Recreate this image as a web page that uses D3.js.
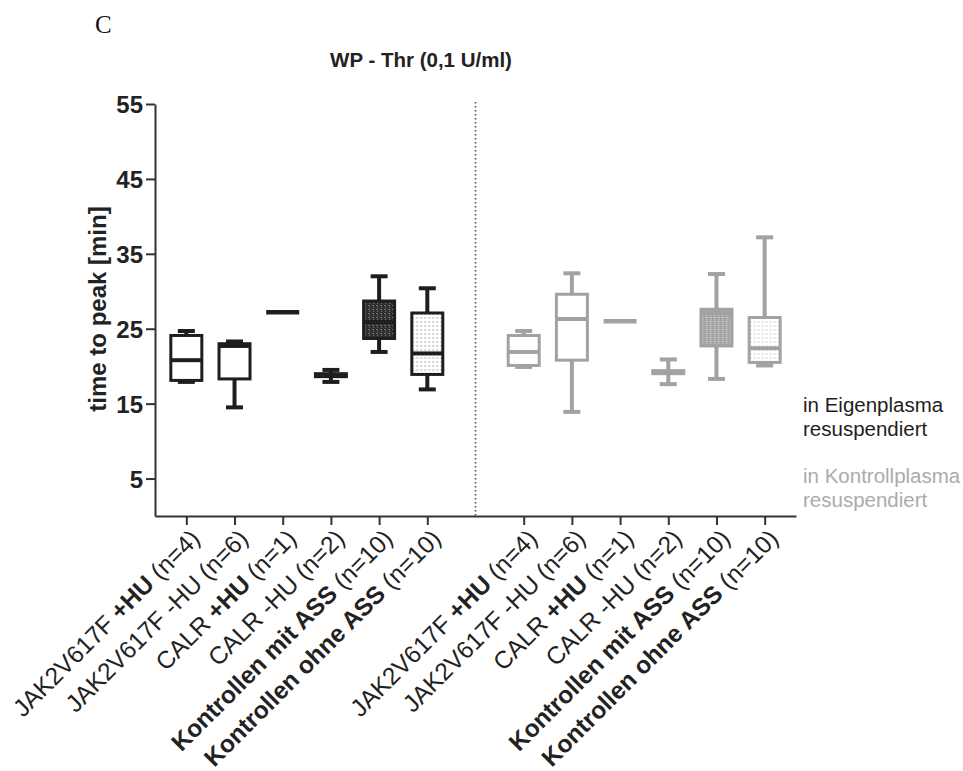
<!DOCTYPE html>
<html>
<head>
<meta charset="utf-8">
<script src="https://cdn.jsdelivr.net/npm/d3@7"></script>
<style>
  body { margin: 0; background: #fff; }
  text { font-family: "Liberation Sans", Arial, sans-serif; }
</style>
</head>
<body>
<div id="chart"></div>
<script>
// box plot data (time to peak, min)
var categories = ["JAK2V617F +HU (n=4)", "JAK2V617F -HU (n=6)", "CALR +HU (n=1)", "CALR -HU (n=2)",
    "Kontrollen mit ASS (n=10)", "Kontrollen ohne ASS (n=10)",
    "JAK2V617F +HU (n=4) ", "JAK2V617F -HU (n=6) ", "CALR +HU (n=1) ", "CALR -HU (n=2) ",
    "Kontrollen mit ASS (n=10) ", "Kontrollen ohne ASS (n=10) "];
// label pieces: [text, bold]
var labelParts = [
    [["JAK2V617F ", 0], ["+HU", 1], [" (n=4)", 0]],
    [["JAK2V617F -HU (n=6)", 0]],
    [["CALR ", 0], ["+HU", 1], [" (n=1)", 0]],
    [["CALR -HU (n=2)", 0]],
    [["Kontrollen mit ASS", 1], [" (n=10)", 0]],
    [["Kontrollen ohne ASS", 1], [" (n=10)", 0]]
];
var groups = ["Eigenplasma", "Eigenplasma", "Eigenplasma", "Eigenplasma", "Eigenplasma", "Eigenplasma",
    "Kontrollplasma", "Kontrollplasma", "Kontrollplasma", "Kontrollplasma", "Kontrollplasma", "Kontrollplasma"];
var nValues = [4, 6, 1, 2, 10, 10, 4, 6, 1, 2, 10, 10];
var whiskerLow = [17.9, 14.5, 27.2, 17.9, 21.9, 16.9, 19.9, 13.9, 26.0, 17.6, 18.3, 20.1];
var q1 = [18.1, 18.3, 27.2, 18.6, 23.7, 18.9, 20.1, 20.8, 26.0, 19.0, 22.7, 20.5];
var median = [20.8, 22.7, 27.2, 18.8, 25.9, 21.7, 21.9, 26.3, 26.0, 19.2, 27.1, 22.4];
var q3 = [24.1, 23.0, 27.2, 19.0, 28.7, 27.1, 24.1, 29.6, 26.0, 19.4, 27.6, 26.5];
var whiskerHigh = [24.7, 23.3, 27.2, 19.5, 32.0, 30.4, 24.7, 32.4, 26.0, 20.9, 32.3, 37.2];
var yTicks = [5, 15, 25, 35, 45, 55];
var legendLines = [["in Eigenplasma", "resuspendiert"], ["in Kontrollplasma", "resuspendiert"]];

// set the dimensions and margins of the graph
var margin = { top: 104, right: 167, bottom: 255, left: 155 },
    width = 963 - margin.left - margin.right,
    height = 771 - margin.top - margin.bottom;

var svgRoot = d3.select("#chart")
    .append("svg")
    .attr("width", 963)
    .attr("height", 771);

// fill patterns
var defs = svgRoot.append("defs");
function makePattern(id, bg, mark, size, dash) {
    var p = defs.append("pattern")
        .attr("id", id)
        .attr("patternUnits", "userSpaceOnUse")
        .attr("width", size).attr("height", size);
    p.append("rect").attr("width", size).attr("height", size).attr("fill", bg);
    if (dash) {
        p.append("rect").attr("x", 1).attr("y", 1).attr("width", 2).attr("height", 1).attr("fill", mark);
        p.append("rect").attr("x", 2).attr("y", 3).attr("width", 1).attr("height", 1).attr("fill", mark);
    } else {
        p.append("circle").attr("cx", size / 2).attr("cy", size / 2).attr("r", 0.7).attr("fill", mark);
    }
}
makePattern("darkL", "#2e2e2e", "#777", 4, true);
makePattern("darkR", "#a4a4a4", "#d2d2d2", 4, true);
makePattern("dotsL", "#fff", "#8a8a8a", 4, false);
makePattern("dotsR", "#fff", "#b5b5b5", 4, false);

var svg = svgRoot.append("g")
    .attr("transform", "translate(" + margin.left + "," + margin.top + ")");

// x: 13 slots, slot "gap" separates the two groups
var slots = categories.slice(0, 6).concat(["gap"]).concat(categories.slice(6));
var x = d3.scalePoint()
    .domain(slots)
    .range([0, width])
    .padding(0.65);

var y = d3.scaleLinear()
    .domain([0, 55])
    .range([height, 0]);

var color = d3.scaleOrdinal()
    .domain(["Eigenplasma", "Kontrollplasma"])
    .range(["#1e1e1e", "#a2a2a2"]);

function fillFor(i) {
    var c = categories[i];
    var side = groups[i] == "Eigenplasma" ? "L" : "R";
    if (c.indexOf("mit ASS") >= 0) return "url(#dark" + side + ")";
    if (c.indexOf("ohne ASS") >= 0) return "url(#dots" + side + ")";
    return "#fff";
}

// dotted separator
svg.append("line")
    .attr("x1", x("gap")).attr("x2", x("gap"))
    .attr("y1", -2).attr("y2", height)
    .attr("stroke", "#555")
    .attr("stroke-width", 1.6)
    .attr("stroke-dasharray", "1.4,2.6");

// Add Y axis
var yAxis = svg.append("g")
    .call(d3.axisLeft(y).tickValues(yTicks).tickSize(9).tickSizeOuter(0).tickPadding(3));
yAxis.select(".domain").attr("stroke", "#333").attr("stroke-width", 2);
yAxis.selectAll(".tick line").attr("stroke", "#333").attr("stroke-width", 2);
yAxis.selectAll(".tick text")
    .style("font-size", "24px")
    .style("font-weight", "bold")
    .attr("fill", "#222")
    .attr("dy", "0.36em");

// Add X axis
var xAxis = svg.append("g")
    .attr("transform", "translate(0," + height + ")")
    .call(d3.axisBottom(x).tickValues(categories).tickSize(9).tickSizeOuter(0).tickFormat(""));
xAxis.select(".domain").attr("stroke", "#333").attr("stroke-width", 2);
xAxis.selectAll(".tick line").attr("stroke", "#333").attr("stroke-width", 2);

// X labels, rotated
var labels = svg.selectAll(".xlab")
    .data(categories)
    .enter()
    .append("text")
    .attr("class", "xlab")
    .attr("text-anchor", "end")
    .attr("transform", function (d) { return "translate(" + (x(d) + 15) + "," + (height + 24) + ") rotate(-45)"; })
    .style("font-size", "24.5px")
    .attr("fill", "#222");
labels.each(function (d, i) {
    var t = d3.select(this);
    labelParts[i % 6].forEach(function (p) {
        t.append("tspan")
            .attr("font-weight", p[1] ? "bold" : "normal")
            .text(p[0]);
    });
});

// Y axis label
svg.append("text")
    .attr("text-anchor", "middle")
    .attr("transform", "rotate(-90)")
    .attr("x", -(309 - margin.top))
    .attr("y", 106 - margin.left)
    .style("font-size", "24px")
    .style("font-weight", "bold")
    .attr("fill", "#222")
    .text("time to peak [min]");

// Title and panel letter
svgRoot.append("text")
    .attr("text-anchor", "middle")
    .attr("x", 421)
    .attr("y", 67)
    .style("font-size", "20.5px")
    .style("font-weight", "bold")
    .attr("fill", "#222")
    .text("WP - Thr (0,1 U/ml)");

svgRoot.append("text")
    .attr("x", 95)
    .attr("y", 33)
    .style("font-family", "'Liberation Serif', 'Times New Roman', serif")
    .style("font-size", "25px")
    .attr("fill", "#111")
    .text("C");

// Draw the boxes
var boxW = 31, capW = 17;
var boxes = svg.selectAll(".box")
    .data(categories)
    .enter()
    .append("g")
    .attr("class", "box")
    .attr("transform", function (d) { return "translate(" + x(d) + ",0)"; });

boxes.each(function (d, i) {
    var g = d3.select(this);
    var c = color(groups[i]);
    if (nValues[i] == 1) {
        g.append("line")
            .attr("x1", -boxW / 2 - 1).attr("x2", boxW / 2 + 1)
            .attr("y1", y(median[i])).attr("y2", y(median[i]))
            .attr("stroke", c).attr("stroke-width", 4.5);
        return;
    }
    // whiskers
    g.append("line")
        .attr("x1", 0).attr("x2", 0)
        .attr("y1", y(whiskerHigh[i])).attr("y2", y(q3[i]))
        .attr("stroke", c).attr("stroke-width", 4);
    g.append("line")
        .attr("x1", 0).attr("x2", 0)
        .attr("y1", y(q1[i])).attr("y2", y(whiskerLow[i]))
        .attr("stroke", c).attr("stroke-width", 4);
    [whiskerHigh[i], whiskerLow[i]].forEach(function (v) {
        g.append("line")
            .attr("x1", -capW / 2).attr("x2", capW / 2)
            .attr("y1", y(v)).attr("y2", y(v))
            .attr("stroke", c).attr("stroke-width", 4);
    });
    // box
    g.append("rect")
        .attr("x", -boxW / 2)
        .attr("y", y(q3[i]))
        .attr("width", boxW)
        .attr("height", Math.max(0.5, y(q1[i]) - y(q3[i])))
        .attr("fill", fillFor(i))
        .attr("stroke", c)
        .attr("stroke-width", 3);
    // median
    g.append("line")
        .attr("x1", -boxW / 2).attr("x2", boxW / 2)
        .attr("y1", y(median[i])).attr("y2", y(median[i]))
        .attr("stroke", c).attr("stroke-width", 4);
});

// legend
legendLines.forEach(function (lines, k) {
    var t = svgRoot.append("text")
        .attr("x", 803)
        .attr("y", 412 + k * 71)
        .style("font-size", "20.5px")
        .attr("fill", k == 0 ? "#1e1e1e" : "#ababab");
    lines.forEach(function (s, j) {
        t.append("tspan").attr("x", 803).attr("dy", j == 0 ? 0 : 24).text(s);
    });
});
</script>
</body>
</html>
